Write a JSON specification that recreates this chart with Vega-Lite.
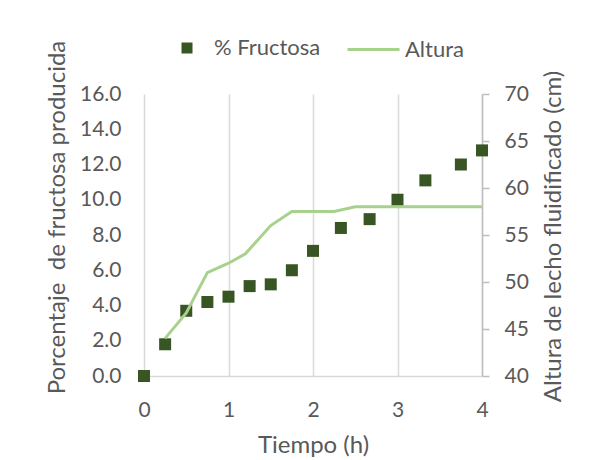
{
  "$schema": "https://vega.github.io/schema/vega-lite/v6.json",
  "width": 338,
  "height": 282,
  "autosize": {"type": "none"},
  "padding": {"left": 144, "top": 94, "right": 121, "bottom": 84},
  "background": "white",
  "datasets": {
    "fructosa": [
      {"t": 0, "fructosa": 0.0},
      {"t": 0.25, "fructosa": 1.8},
      {"t": 0.5, "fructosa": 3.7},
      {"t": 0.75, "fructosa": 4.2},
      {"t": 1.0, "fructosa": 4.5},
      {"t": 1.25, "fructosa": 5.1},
      {"t": 1.5, "fructosa": 5.2},
      {"t": 1.75, "fructosa": 6.0},
      {"t": 2.0, "fructosa": 7.1},
      {"t": 2.33, "fructosa": 8.4},
      {"t": 2.67, "fructosa": 8.9},
      {"t": 3.0, "fructosa": 10.0},
      {"t": 3.33, "fructosa": 11.1},
      {"t": 3.75, "fructosa": 12.0},
      {"t": 4.0, "fructosa": 12.8}
    ],
    "altura": [
      {"t": 0.25, "altura": 44.0},
      {"t": 0.5, "altura": 46.7},
      {"t": 0.75, "altura": 51.0},
      {"t": 1.0, "altura": 52.0},
      {"t": 1.2, "altura": 53.0},
      {"t": 1.5, "altura": 56.0},
      {"t": 1.75, "altura": 57.5},
      {"t": 2.25, "altura": 57.5},
      {"t": 2.5, "altura": 58.0},
      {"t": 4.0, "altura": 58.0}
    ]
  },
  "layer": [
    {
      "data": {"name": "fructosa"},
      "transform": [{"calculate": "'% Fructosa'", "as": "serie"}],
      "mark": {"type": "point", "shape": "square", "filled": true, "size": 144, "opacity": 1},
      "encoding": {
        "x": {
          "field": "t", "type": "quantitative",
          "scale": {"domain": [0, 4], "nice": false, "zero": false},
          "axis": {
            "title": "Tiempo (h)",
            "values": [0, 1, 2, 3, 4],
            "format": "d",
            "grid": true,
            "gridColor": "#d9d9d9",
            "gridWidth": 1.5,
            "domainColor": "#d9d9d9",
            "domainWidth": 1.5,
            "ticks": false,
            "tickSize": 0,
            "labelFlush": false,
            "labelBaseline": "alphabetic",
            "labelPadding": 40,
            "titleBaseline": "alphabetic",
            "titleY": 76,
            "titleFontSize": 24
          }
        },
        "y": {
          "field": "fructosa", "type": "quantitative",
          "scale": {"domain": [0, 16], "nice": false},
          "axis": {
            "orient": "left",
            "title": "Porcentaje\u00a0 de fructosa producida",
            "values": [0, 2, 4, 6, 8, 10, 12, 14, 16],
            "format": ".1f",
            "grid": false,
            "domain": false,
            "ticks": false,
            "tickSize": 0,
            "labelFlush": false,
            "labelPadding": 23,
            "titleX": -87,
            "titleY": 123,
            "titleBaseline": "middle",
            "titleFontSize": 24
          }
        },
        "color": {
          "field": "serie", "type": "nominal",
          "scale": {"domain": ["% Fructosa"], "range": ["#375623"]},
          "legend": {
            "title": null,
            "orient": "none",
            "legendX": 32,
            "legendY": -57,
            "symbolType": "square",
            "symbolSize": 121,
            "labelOffset": 16
          }
        }
      }
    },
    {
      "data": {"name": "altura"},
      "transform": [{"calculate": "'Altura'", "as": "serie"}],
      "mark": {"type": "line", "strokeWidth": 3},
      "encoding": {
        "x": {"field": "t", "type": "quantitative"},
        "y": {
          "field": "altura", "type": "quantitative",
          "scale": {"domain": [40, 70], "nice": false, "zero": false},
          "axis": {
            "orient": "right",
            "title": "Altura de lecho fluidificado (cm)",
            "values": [40, 45, 50, 55, 60, 65, 70],
            "grid": false,
            "domain": true,
            "domainColor": "#bfbfbf",
            "domainWidth": 1.5,
            "ticks": true,
            "tickColor": "#bfbfbf",
            "tickWidth": 1.5,
            "tickSize": 7,
            "labelFlush": false,
            "labelPadding": 15,
            "titleAngle": 270,
            "titleX": 71,
            "titleY": 142,
            "titleBaseline": "middle",
            "titleFontSize": 24
          }
        },
        "color": {
          "field": "serie", "type": "nominal",
          "scale": {"domain": ["Altura"], "range": ["#a9d18e"]},
          "legend": {
            "title": null,
            "orient": "none",
            "legendX": 202,
            "legendY": -72,
            "symbolType": "stroke",
            "symbolSize": 2704,
            "symbolStrokeWidth": 3,
            "labelOffset": 4
          }
        }
      }
    }
  ],
  "resolve": {
    "scale": {"y": "independent", "color": "independent"},
    "legend": {"color": "independent"}
  },
  "config": {
    "font": "Lato",
    "view": {"stroke": null},
    "axis": {
      "labelFont": "Lato",
      "labelFontSize": 21,
      "labelColor": "#595959",
      "titleFont": "Lato",
      "titleFontWeight": "normal",
      "titleColor": "#595959"
    },
    "legend": {
      "labelFont": "Lato",
      "labelFontSize": 22,
      "labelColor": "#595959",
      "padding": 0
    }
  }
}
